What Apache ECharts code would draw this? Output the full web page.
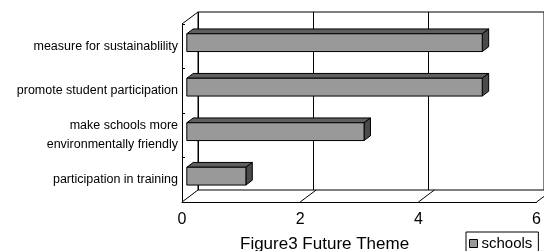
<!DOCTYPE html>
<html>
<head>
<meta charset="utf-8">
<script src="https://cdn.jsdelivr.net/npm/echarts@6/dist/echarts.min.js"></script>
<style>
  html, body { margin: 0; padding: 0; background: #fff; }
  #chart { width: 544px; height: 251px; }
</style>
</head>
<body>
<div id="chart"></div>
<script>
// categories top to bottom
var categories = [
  "measure for sustainablility",
  "promote student participation",
  "make schools more\nenvironmentally friendly",
  "participation in training"
];
var schools = [5, 5, 3, 1];
var xTicks = [0, 2, 4, 6];

// depth of the fake 3d box
var DX = 16, DY = 12;

var myChart = echarts.init(document.getElementById("chart"));

function renderBar(params, api) {
  var cat = api.value(1);
  var p0 = api.coord([0, cat]);
  var p1 = api.coord([api.value(0), cat]);
  var h = api.size([0, 1])[1] * 0.4;
  var s1 = 0.3, s2 = 0.7;
  var fx0 = p0[0] + DX * s1, fx1 = p1[0] + DX * s1;
  var fy0 = p0[1] - DY * s1 - h / 2, fy1 = fy0 + h;
  var dd = DX * (s2 - s1), ddy = DY * (s2 - s1);
  var line = { stroke: "#000", lineWidth: 1 };
  return {
    type: "group",
    children: [
      {
        type: "polygon",
        shape: { points: [[fx0, fy0], [fx1, fy0], [fx1 + dd, fy0 - ddy], [fx0 + dd, fy0 - ddy]] },
        style: Object.assign({ fill: "#5f5f5f" }, line)
      },
      {
        type: "polygon",
        shape: { points: [[fx1, fy0], [fx1 + dd, fy0 - ddy], [fx1 + dd, fy1 - ddy], [fx1, fy1]] },
        style: Object.assign({ fill: "#4a4a4a" }, line)
      },
      {
        type: "rect",
        shape: { x: fx0, y: fy0, width: fx1 - fx0, height: h },
        style: Object.assign({ fill: "#999999" }, line)
      }
    ]
  };
}

function renderFloor(params, api) {
  var cs = params.coordSys;
  var px = api.coord([api.value(0), 0])[0];
  var by = cs.y + cs.height;
  var kids = [{
    type: "line",
    shape: { x1: px, y1: by, x2: px + DX, y2: by - DY },
    style: { stroke: "#000", lineWidth: 1 }
  }];
  if (params.dataIndex === 0) {
    kids.push({
      type: "line",
      shape: { x1: cs.x, y1: cs.y, x2: cs.x + DX, y2: cs.y - DY },
      style: { stroke: "#000", lineWidth: 1 }
    });
  }
  return { type: "group", children: kids };
}

myChart.setOption({
  animation: false,
  textStyle: { fontFamily: "Liberation Sans, Arial, sans-serif", color: "#000" },
  title: {
    text: "Figure3 Future Theme",
    left: 240,
    top: 236,
    padding: 0,
    textStyle: { fontSize: 17, fontWeight: "normal", color: "#000" }
  },
  legend: {
    data: [{ name: "schools", icon: "rect", itemStyle: { color: "#999999", borderColor: "#000", borderWidth: 1 } }],
    left: 466,
    top: 232,
    padding: [4, 6, 10, 3],
    borderColor: "#000",
    borderWidth: 1,
    itemWidth: 8,
    itemHeight: 8,
    textStyle: { fontSize: 15, color: "#000", padding: [0, 0, 0, -1] }
  },
  grid: [
    { left: 182, right: 6, top: 24, bottom: 49 },
    { left: 198, right: -10, top: 12, bottom: 61, show: true, borderColor: "#000", borderWidth: 1 }
  ],
  xAxis: [
    {
      gridIndex: 0, type: "value", min: 0, max: 6, interval: 2,
      axisLine: { show: true, lineStyle: { color: "#000" } },
      axisTick: { show: false },
      splitLine: { show: false },
      axisLabel: { fontSize: 16, color: "#000", margin: 10 }
    },
    {
      gridIndex: 1, type: "value", min: 0, max: 6, interval: 2,
      axisLine: { show: false },
      axisTick: { show: false },
      axisLabel: { show: false },
      splitLine: { show: true, lineStyle: { color: "#000", width: 1 } }
    }
  ],
  yAxis: [
    {
      gridIndex: 0, type: "category", inverse: true, data: categories,
      axisLine: { show: true, lineStyle: { color: "#000" } },
      axisTick: { show: true, inside: true, length: 3, lineStyle: { color: "#000" } },
      axisLabel: { fontSize: 12.5, color: "#000", margin: 4, lineHeight: 19, padding: [6, 0, 0, 0] }
    },
    {
      gridIndex: 1, type: "category", inverse: true, data: categories,
      axisLine: { show: false }, axisTick: { show: false }, axisLabel: { show: false }
    }
  ],
  series: [
    {
      name: "floor",
      type: "custom",
      xAxisIndex: 0, yAxisIndex: 0,
      data: xTicks.map(function (v) { return [v, 0]; }),
      encode: { x: 0, y: 1 },
      renderItem: renderFloor,
      silent: true,
      z: 1
    },
    {
      name: "schools",
      type: "custom",
      xAxisIndex: 0, yAxisIndex: 0,
      itemStyle: { color: "#999999", borderColor: "#000", borderWidth: 1 },
      data: schools.map(function (v, i) { return [v, i]; }),
      encode: { x: 0, y: 1 },
      renderItem: renderBar,
      z: 3
    }
  ]
});
</script>
</body>
</html>
